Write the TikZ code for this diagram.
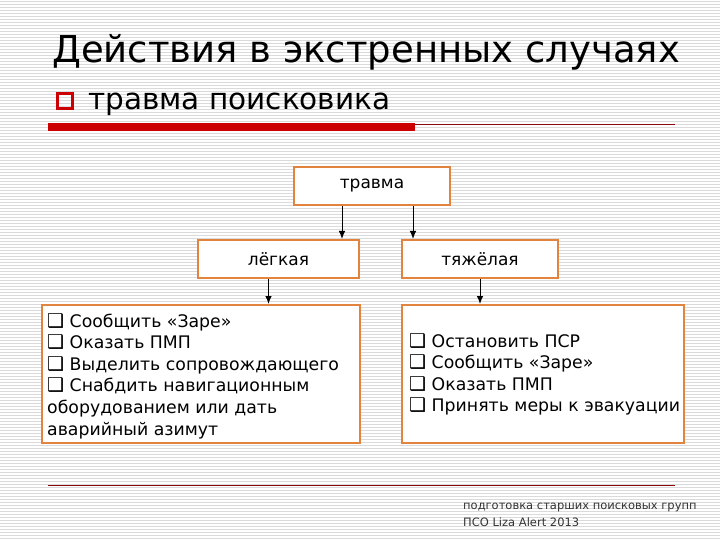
\documentclass[tikz,border=0pt]{standalone}
\usepackage{fontspec}
\setmainfont{DejaVu Sans}
\usetikzlibrary{arrows.meta}
\definecolor{boxorange}{RGB}{226,132,62}
\definecolor{barred}{RGB}{204,0,0}
\definecolor{darkred}{RGB}{140,10,10}
\definecolor{stripe}{RGB}{218,218,218}
\tikzset{
  box/.style={draw=boxorange, line width=2pt, fill=white, inner sep=0pt},
  arr/.style={-{Latex[length=8pt,width=6.5pt]}, line width=1pt, black},
  bodytext/.style={font=\fontsize{17.3}{21.6}\selectfont, align=left, anchor=north west, inner sep=0pt},
}
\newcommand{\bul}{{\fontsize{19}{19}\selectfont ❑}\ }
\begin{document}
\begin{tikzpicture}[x=1pt,y=-1pt]
\useasboundingbox (0,0) rectangle (720,540);
\fill[white] (0,0) rectangle (720,540);
\foreach \y in {1,4,...,540} \draw[stripe, line width=0.9pt] (0,\y) -- (720,\y);
% title
\node[anchor=base west, inner sep=0pt, font=\fontsize{37}{37}\selectfont] (title) at (52,63) {Действия в экстренных случаях};
% bullet
\node[draw=barred, line width=2.5pt, minimum size=15pt, inner sep=0pt] (sq) at (65,101) {};
\node[anchor=base west, inner sep=0pt, font=\fontsize{29.5}{30}\selectfont] (sub) at (88,110) {травма поисковика};
% bars
\fill[barred] (48,123) rectangle (415,131);
\draw[darkred, line width=0.8pt] (415,124) -- (675,124);
\draw[darkred, line width=1pt] (48,485) -- (675,485);
% boxes
\node[box, minimum width=156pt, minimum height=38pt, font=\fontsize{17}{17}\selectfont] (top) at (372,186) {травма};
\node[box, minimum width=161pt, minimum height=38pt, font=\fontsize{17}{17}\selectfont] (light) at (278.5,259) {лёгкая};
\node[box, minimum width=156pt, minimum height=38pt, font=\fontsize{17}{17}\selectfont] (heavy) at (480,259) {тяжёлая};
\node[box, minimum width=318pt, minimum height=138pt] (lbox) at (201,374) {};
\node[box, minimum width=282pt, minimum height=138pt] (rbox) at (543,374) {};
\node[bodytext] (ltext) at (47,313) {\bul Сообщить «Заре»\\ \bul Оказать ПМП\\ \bul Выделить сопровождающего\\ \bul Снабдить навигационным\\ оборудованием или дать\\ аварийный азимут};
\node[bodytext] (rtext) at (409,333) {\bul Остановить ПСР\\ \bul Сообщить «Заре»\\ \bul Оказать ПМП\\ \bul Принять меры к эвакуации};
% arrows
\coordinate (a1) at ([xshift=-30pt]top.south);
\coordinate (a2) at ([xshift=41pt]top.south);
\coordinate (a3) at ([xshift=-10pt]light.south);
\draw[arr] (a1) -- (a1 |- light.north);
\draw[arr] (a2) -- (a2 |- heavy.north);
\draw[arr] (a3) -- (a3 |- lbox.north);
\draw[arr] (heavy.south) -- (heavy.south |- rbox.north);
% footer
\node[anchor=north west, inner sep=0pt, align=left, text=black!80, font=\fontsize{11.5}{17}\selectfont] (foot) at (463,503) {подготовка старших поисковых групп\\ ПСО Liza Alert 2013};
\end{tikzpicture}
\end{document}
